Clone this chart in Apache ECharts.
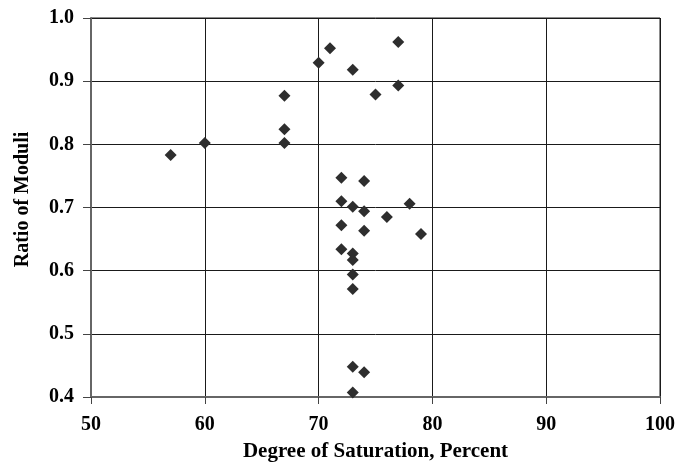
<!DOCTYPE html>
<html>
<head>
<meta charset="utf-8">
<script src="https://cdn.jsdelivr.net/npm/echarts@6/dist/echarts.min.js"></script>
<style>
  html, body { margin: 0; padding: 0; background: #fff; }
  #chart { width: 688px; height: 466px; }
</style>
</head>
<body>
<div id="chart"></div>
<script>
// Degree of saturation (percent) for each specimen
const saturation = [
  71, 70, 73, 75, 67, 67, 67, 60, 57, 77, 77,
  72, 74, 72, 73, 74, 78, 76, 72, 74, 79,
  72, 73, 73, 73, 73, 73, 74, 73
];
// Ratio of moduli for each specimen
const moduliRatio = [
  0.952, 0.929, 0.918, 0.879, 0.877, 0.824, 0.802, 0.802, 0.783, 0.962, 0.893,
  0.747, 0.742, 0.710, 0.701, 0.694, 0.706, 0.685, 0.672, 0.663, 0.658,
  0.634, 0.627, 0.617, 0.594, 0.571, 0.448, 0.439, 0.407
];
const xTitle = 'Degree of Saturation, Percent';
const yTitle = 'Ratio of Moduli';

const points = saturation.map((x, i) => [x, moduliRatio[i]]);

const font = '"Liberation Serif", "Times New Roman", serif';
const lineColor = '#1a1a1a';

const chart = echarts.init(document.getElementById('chart'));
chart.setOption({
  animation: false,
  backgroundColor: '#fff',
  grid: {
    left: 91, right: 28, top: 18, bottom: 69,
    outerBoundsMode: 'none', containLabel: false,
    show: true, borderColor: lineColor, borderWidth: 1
  },
  xAxis: {
    type: 'value', min: 50, max: 100, interval: 10,
    name: xTitle, nameLocation: 'middle', nameGap: 44,
    nameTextStyle: { fontFamily: font, fontWeight: 'bold', fontSize: 21, color: '#000' },
    axisLine: { show: true, lineStyle: { color: '#666', width: 2 } },
    axisTick: { show: true, length: 7, lineStyle: { color: '#444' } },
    axisLabel: { fontFamily: font, fontWeight: 'bold', fontSize: 20, color: '#000', margin: 18 },
    splitLine: { show: true, lineStyle: { color: lineColor, width: 1 } }
  },
  yAxis: {
    type: 'value', min: 0.4, max: 1.0, interval: 0.1,
    name: yTitle, nameLocation: 'middle', nameGap: 58, nameRotate: 90,
    nameTextStyle: {
      fontFamily: font, fontWeight: 'bold', fontSize: 20, color: '#000',
      padding: [0, 0, 0, 16]
    },
    axisLine: { show: true, lineStyle: { color: '#666', width: 2 } },
    axisTick: { show: true, length: 8, lineStyle: { color: '#444' } },
    axisLabel: {
      fontFamily: font, fontWeight: 'bold', fontSize: 20, color: '#000', margin: 17,
      formatter: v => v.toFixed(1)
    },
    splitLine: { show: true, lineStyle: { color: lineColor, width: 1 } }
  },
  series: [{
    type: 'scatter',
    data: points,
    symbol: 'diamond',
    symbolSize: 12,
    itemStyle: { color: '#2e2e2e', opacity: 1 }
  }]
});
</script>
</body>
</html>
